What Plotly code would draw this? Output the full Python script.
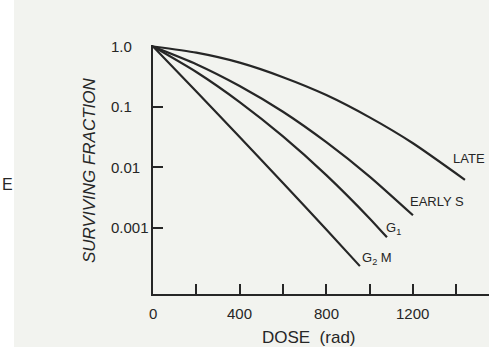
import math
import plotly.graph_objects as go

# ---- data ----
dose_late = [0, 200, 400, 600, 800, 1000, 1200, 1440]
sf_late = [1.0, 0.79, 0.54, 0.31, 0.157, 0.067, 0.025, 0.0062]

dose_early_s = [0, 200, 400, 600, 800, 1000, 1200]
sf_early_s = [1.0, 0.51, 0.222, 0.083, 0.026, 0.0070, 0.0016]

dose_g1 = [0, 200, 400, 600, 800, 1000, 1080]
sf_g1 = [1.0, 0.378, 0.120, 0.0324, 0.0074, 0.00142, 0.00069]

dose_g2m = [0, 200, 400, 600, 800, 955]
sf_g2m = [1.0, 0.180, 0.0318, 0.0055, 0.00093, 0.00023]

x_tick_vals = [200, 400, 600, 800, 1000, 1200, 1400]
x_label_vals = [0, 400, 800, 1200]
x_label_text = ["0", "400", "800", "1200"]
y_tick_vals = [0.1, 0.01, 0.001]
y_label_vals = [1.0, 0.1, 0.01, 0.001]
y_label_text = ["1.0", "0.1", "0.01", "0.001"]

series = [
    ("LATE", dose_late, sf_late),
    ("EARLY S", dose_early_s, sf_early_s),
    ("G<sub>1</sub>", dose_g1, sf_g1),
    ("G<sub>2</sub> M", dose_g2m, sf_g2m),
]
# label positions (dose, log10 fraction)
label_pos = {
    "LATE": (1458, -1.85),
    "EARLY S": (1313, -2.56),
    "G<sub>1</sub>": (1112, -3.01),
    "G<sub>2</sub> M": (1036, -3.52),
}

INK = "#262626"
FONT = "Liberation Sans, Arial, sans-serif"

fig = go.Figure()
for name, xs, ys in series:
    fig.add_trace(go.Scatter(x=xs, y=ys, mode="lines", name=name,
                             line=dict(color=INK, width=2.2, shape="spline", smoothing=0.6),
                             showlegend=False, hoverinfo="skip"))

ann = []
for name, (lx, ly) in label_pos.items():
    ann.append(dict(x=lx, y=ly, xref="x", yref="y", text=name, showarrow=False,
                    xanchor="center", yanchor="middle",
                    font=dict(family=FONT, size=13, color=INK)))
for v, t in zip(y_label_vals, y_label_text):
    ann.append(dict(x=0, xref="paper", xshift=-44, y=math.log10(v), yref="y", text=t,
                    showarrow=False, xanchor="left", yanchor="middle",
                    font=dict(family=FONT, size=15, color=INK)))
ann.append(dict(x=0, xref="paper", xshift=-64, y=(294 - 170) / 249, yref="paper",
                text="<i>SURVIVING FRACTION</i>", textangle=-90, showarrow=False,
                xanchor="center", yanchor="middle",
                font=dict(family=FONT, size=17, color=INK)))
ann.append(dict(x=(309 - 153) / 336, xref="paper", y=0, yref="paper", yshift=-43,
                text="DOSE  (rad)", showarrow=False, xanchor="center", yanchor="middle",
                font=dict(family=FONT, size=17, color=INK)))
ann.append(dict(x=0, xref="paper", xshift=-153, y=(294 - 184) / 249, yref="paper",
                text="E", showarrow=False, xanchor="left", yanchor="middle",
                font=dict(family=FONT, size=16, color=INK)))
for v, t in zip(x_label_vals, x_label_text):
    ann.append(dict(x=v, xref="x", y=0, yref="paper", yshift=-19, text=t,
                    showarrow=False, xanchor="center", yanchor="middle",
                    font=dict(family=FONT, size=15, color=INK)))

fig.update_layout(
    width=489, height=347,
    margin=dict(l=153, r=0, t=45, b=53),
    paper_bgcolor="#f2f3ef", plot_bgcolor="rgba(0,0,0,0)",
    annotations=ann,
    shapes=[dict(type="rect", xref="paper", yref="paper",
                 x0=-0.46, x1=(14 - 153) / 336, y0=-0.3, y1=1.3,
                 fillcolor="white", line=dict(width=0), layer="below")],
)
fig.update_xaxes(range=[0, 1551], showgrid=False, zeroline=False,
                 showline=True, linecolor=INK, linewidth=2,
                 tickmode="array", tickvals=x_tick_vals,
                 ticks="inside", ticklen=10, tickwidth=2, tickcolor=INK,
                 showticklabels=False)
fig.update_yaxes(type="log", range=[-4.10, 0.025], showgrid=False, zeroline=False,
                 showline=True, linecolor=INK, linewidth=2,
                 tickmode="array", tickvals=y_tick_vals,
                 ticks="inside", ticklen=10, tickwidth=2, tickcolor=INK,
                 showticklabels=False)

fig.write_html("out.html", config={"displayModeBar": False},
               post_script="document.body.style.margin='0px';")
